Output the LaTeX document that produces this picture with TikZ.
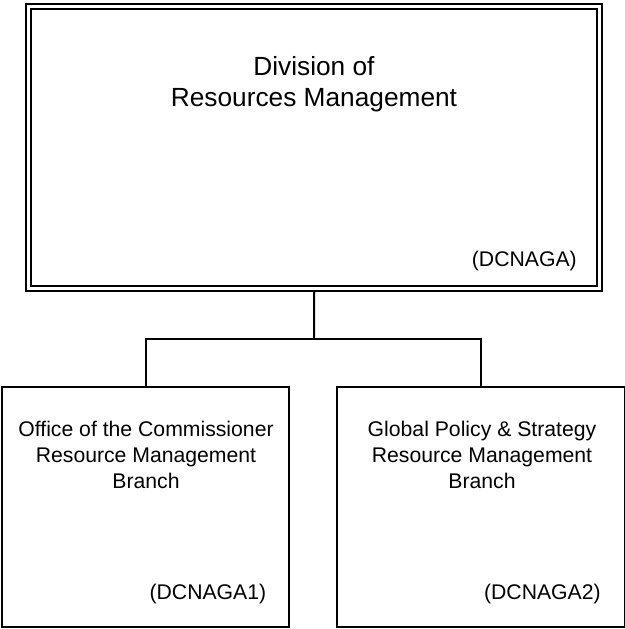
\documentclass[tikz,border=0pt]{standalone}
\usepackage{fontspec}
\setmainfont{Liberation Sans}
\begin{document}
\begin{tikzpicture}[x=0.75pt,y=-0.75pt,
  frame/.style={draw=black, line width=1.5pt, rectangle, inner sep=0pt, outer sep=0.75pt},
  topframe/.style={frame, double, double distance=2.25pt, outer sep=2.625pt},
  unitbox/.style={frame, minimum width=215.6pt, minimum height=180pt},
  bigtext/.style={inner sep=0pt, anchor=base, font=\fontsize{19.7}{23}\selectfont},
  smalltext/.style={inner sep=0pt, anchor=base, font=\fontsize{15.9}{19}\selectfont},
  codetext/.style={smalltext, anchor=base east},
  link/.style={draw=black, line width=1.5pt}]
\useasboundingbox (0,0) rectangle (625,629);

% Division box (double frame)
\node[topframe, minimum width=428.6pt, minimum height=211.8pt] (div) at (314.25,147.3) {};
\node[bigtext] (divA) at (314,75.3) {Division of};
\node[bigtext] (divB) at (314,106.7) {Resources Management};
\node[codetext] (divC) at (577,266) {(DCNAGA)};

% Branch boxes
\node[unitbox] (ocb) at (145.7,507) {};
\node[unitbox] (gps) at (481,507) {};

\node[smalltext] (ocbA) at (146,436) {Office of the Commissioner};
\node[smalltext] (ocbB) at (146,462) {Resource Management};
\node[smalltext] (ocbC) at (146,488) {Branch};
\node[codetext] (ocbD) at (266.5,599) {(DCNAGA1)};

\node[smalltext] (gpsA) at (482,436) {Global Policy \& Strategy};
\node[smalltext] (gpsB) at (482,462) {Resource Management};
\node[smalltext] (gpsC) at (482,488) {Branch};
\node[codetext] (gpsD) at (601,599) {(DCNAGA2)};

% Reporting lines
\coordinate (split) at (314,339);
\draw[link] (div.south) -- (split);
\draw[link] (ocb.north) |- (split) -| (gps.north);
\end{tikzpicture}
\end{document}
